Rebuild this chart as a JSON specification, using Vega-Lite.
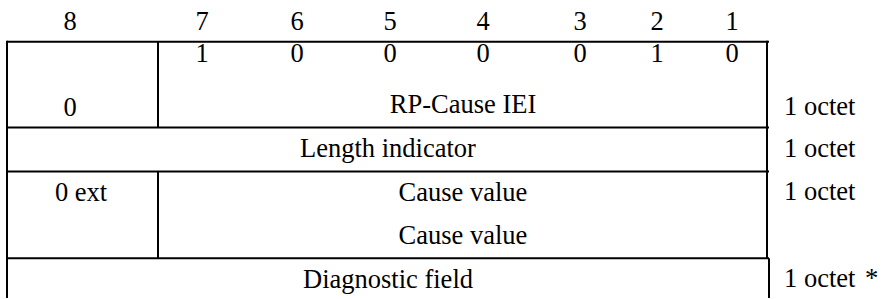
{
  "$schema": "https://vega.github.io/schema/vega-lite/v6.json",
  "width": 883,
  "height": 299,
  "padding": 0,
  "autosize": {"type": "fit", "contains": "padding"},
  "background": "white",
  "config": {"view": {"stroke": null}},
  "datasets": {
    "lines": [
      {"x": 7, "x2": 769, "y": 42, "y2": 42},
      {"x": 7, "x2": 769, "y": 128, "y2": 128},
      {"x": 7, "x2": 769, "y": 172, "y2": 172},
      {"x": 7, "x2": 769, "y": 259, "y2": 259},
      {"x": 7, "x2": 7, "y": 41, "y2": 299},
      {"x": 767, "x2": 767, "y": 41, "y2": 259},
      {"x": 769, "x2": 769, "y": 259, "y2": 299},
      {"x": 158, "x2": 158, "y": 42, "y2": 128},
      {"x": 158, "x2": 158, "y": 172, "y2": 259}
    ],
    "center": [
      {"x": 70, "y": 22, "label": "8"},
      {"x": 202, "y": 22, "label": "7"},
      {"x": 297, "y": 22, "label": "6"},
      {"x": 390, "y": 22, "label": "5"},
      {"x": 483, "y": 22, "label": "4"},
      {"x": 580, "y": 22, "label": "3"},
      {"x": 657, "y": 22, "label": "2"},
      {"x": 732, "y": 22, "label": "1"},
      {"x": 202, "y": 54, "label": "1"},
      {"x": 297, "y": 54, "label": "0"},
      {"x": 390, "y": 54, "label": "0"},
      {"x": 483, "y": 54, "label": "0"},
      {"x": 580, "y": 54, "label": "0"},
      {"x": 657, "y": 54, "label": "1"},
      {"x": 732, "y": 54, "label": "0"},
      {"x": 70, "y": 108, "label": "0"},
      {"x": 463, "y": 105, "label": "RP-Cause IEI"},
      {"x": 388, "y": 150, "label": "Length indicator"},
      {"x": 81, "y": 194, "label": "0 ext"},
      {"x": 463, "y": 194, "label": "Cause value"},
      {"x": 463, "y": 237, "label": "Cause value"},
      {"x": 388, "y": 281, "label": "Diagnostic field"}
    ],
    "left": [
      {"x": 784, "y": 107, "label": "1 octet"},
      {"x": 784, "y": 150, "label": "1 octet"},
      {"x": 784, "y": 193, "label": "1 octet"},
      {"x": 784, "y": 280, "label": "1 octet"},
      {"x": 865, "y": 280, "label": "*"}
    ]
  },
  "layer": [
    {
      "data": {"name": "lines"},
      "mark": {"type": "rule", "color": "black", "strokeWidth": 2},
      "encoding": {
        "x": {"field": "x", "type": "quantitative", "scale": {"domain": [0, 883], "nice": false, "zero": false}, "axis": null},
        "x2": {"field": "x2"},
        "y": {"field": "y", "type": "quantitative", "scale": {"domain": [0, 299], "nice": false, "zero": false, "reverse": true}, "axis": null},
        "y2": {"field": "y2"}
      }
    },
    {
      "data": {"name": "center"},
      "mark": {"type": "text", "font": "Liberation Serif", "fontSize": 26.5, "align": "center", "baseline": "middle", "color": "black"},
      "encoding": {
        "x": {"field": "x", "type": "quantitative"},
        "y": {"field": "y", "type": "quantitative"},
        "text": {"field": "label"}
      }
    },
    {
      "data": {"name": "left"},
      "mark": {"type": "text", "font": "Liberation Serif", "fontSize": 26.5, "align": "left", "baseline": "middle", "color": "black"},
      "encoding": {
        "x": {"field": "x", "type": "quantitative"},
        "y": {"field": "y", "type": "quantitative"},
        "text": {"field": "label"}
      }
    }
  ]
}
